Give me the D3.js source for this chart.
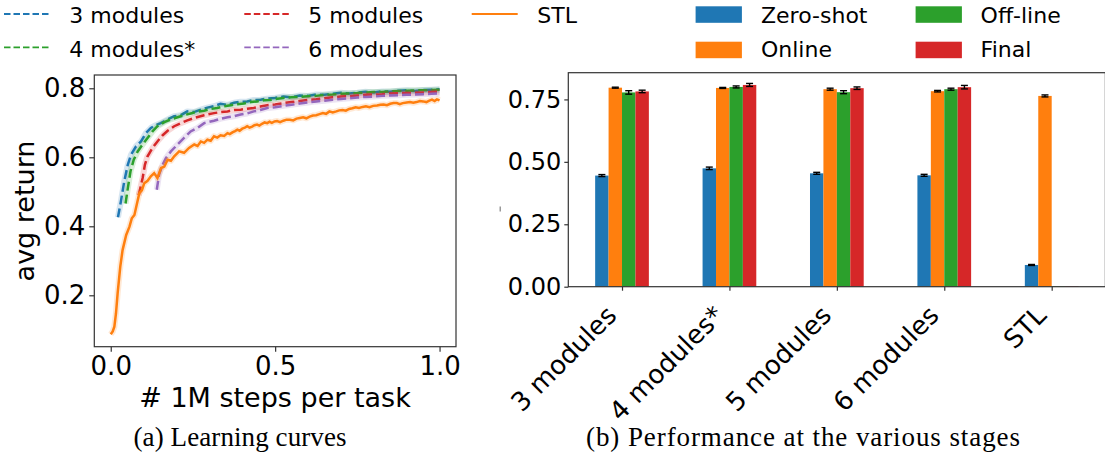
<!DOCTYPE html>
<html>
<head>
<meta charset="utf-8">
<script src="https://cdn.jsdelivr.net/npm/d3@7"></script>
<style>
  body { margin: 0; background: #fff; }
  svg text { font-family: "DejaVu Sans", sans-serif; fill: #000; }
</style>
</head>
<body>
<div id="chart"></div>
<script>
// ---- learning curves (a) ----
var steps3 = [0.022,0.031,0.041,0.052,0.062,0.077,0.092,0.107,0.122,0.137,0.152,0.172,0.193,0.213,0.233,0.253,0.274,0.294,0.314,0.334,0.355,0.375,0.395,0.415,0.435,0.456,0.476,0.5,0.525,0.55,0.575,0.6,0.625,0.65,0.675,0.7,0.725,0.75,0.775,0.8,0.825,0.85,0.875,0.9,0.925,0.95,0.975,1.0];
var ret3 = [0.426,0.473,0.530,0.579,0.608,0.632,0.646,0.670,0.685,0.693,0.699,0.709,0.719,0.722,0.733,0.731,0.738,0.744,0.748,0.755,0.752,0.758,0.761,0.762,0.766,0.767,0.770,0.772,0.776,0.774,0.779,0.778,0.782,0.781,0.784,0.787,0.785,0.787,0.790,0.788,0.791,0.790,0.793,0.794,0.792,0.795,0.796,0.797];

var steps4 = [0.045,0.052,0.060,0.070,0.082,0.097,0.112,0.127,0.142,0.163,0.183,0.203,0.223,0.243,0.264,0.284,0.304,0.324,0.345,0.365,0.385,0.405,0.425,0.445,0.465,0.485,0.5,0.525,0.55,0.575,0.6,0.625,0.65,0.675,0.7,0.725,0.75,0.775,0.8,0.825,0.85,0.875,0.9,0.925,0.95,0.975,1.0];
var ret4 = [0.466,0.511,0.559,0.593,0.617,0.637,0.656,0.675,0.690,0.702,0.710,0.716,0.722,0.727,0.732,0.735,0.740,0.743,0.748,0.751,0.754,0.756,0.760,0.762,0.765,0.766,0.769,0.772,0.774,0.775,0.777,0.778,0.781,0.782,0.784,0.785,0.786,0.788,0.789,0.789,0.791,0.792,0.793,0.794,0.794,0.795,0.796];

var steps5 = [0.085,0.097,0.104,0.112,0.127,0.142,0.158,0.173,0.193,0.213,0.233,0.254,0.284,0.314,0.335,0.355,0.375,0.395,0.415,0.435,0.455,0.476,0.5,0.525,0.55,0.575,0.6,0.625,0.65,0.675,0.7,0.725,0.75,0.775,0.8,0.825,0.85,0.875,0.9,0.925,0.95,0.975,1.0];
var ret5 = [0.490,0.540,0.579,0.603,0.627,0.646,0.664,0.677,0.690,0.699,0.707,0.714,0.722,0.728,0.731,0.733,0.737,0.738,0.741,0.743,0.747,0.751,0.753,0.757,0.760,0.763,0.766,0.768,0.771,0.774,0.776,0.777,0.779,0.781,0.782,0.783,0.785,0.786,0.786,0.787,0.788,0.789,0.790];

var steps6 = [0.14,0.147,0.158,0.168,0.183,0.203,0.223,0.243,0.264,0.284,0.314,0.335,0.355,0.375,0.395,0.415,0.435,0.455,0.476,0.5,0.525,0.55,0.575,0.6,0.625,0.65,0.675,0.7,0.725,0.75,0.775,0.8,0.825,0.85,0.875,0.9,0.925,0.95,0.975,1.0];
var ret6 = [0.506,0.550,0.579,0.598,0.617,0.637,0.656,0.675,0.685,0.699,0.706,0.712,0.716,0.719,0.724,0.727,0.733,0.737,0.743,0.745,0.749,0.752,0.756,0.759,0.762,0.764,0.767,0.769,0.771,0.773,0.775,0.776,0.778,0.779,0.780,0.781,0.782,0.783,0.784,0.785];

var stepsSTL = [0,0.006,0.011,0.016,0.021,0.029,0.036,0.047,0.057,0.064,0.072,0.08,0.087,0.095,0.102,0.112,0.122,0.132,0.142,0.153,0.163,0.173,0.183,0.193,0.208,0.223,0.238,
    0.254,0.264,0.274,0.284,0.294,0.304,0.314,0.324,0.334,0.345,0.355,0.362,0.37,0.378,0.385,0.392,0.4,0.408,0.415,0.422,
    0.43,0.437,0.445,0.452,0.46,0.468,0.476,0.483,0.49,0.498,0.506,0.515,0.525,0.535,0.545,0.555,0.565,0.575,0.585,0.595,
    0.605,0.615,0.625,0.635,0.645,0.655,0.665,0.675,0.686,0.695,0.705,0.715,0.725,0.735,0.745,0.755,0.766,0.776,0.787,0.798,
    0.81,0.82,0.83,0.84,0.85,0.86,0.87,0.879,0.888,0.9,0.91,0.92,0.93,0.94,0.95,0.96,0.969,0.977,0.985,0.992,1.0];
var retSTL = [0.087,0.095,0.109,0.148,0.206,0.283,0.331,0.375,0.399,0.423,0.433,0.467,0.496,0.505,0.525,0.532,0.545,0.554,0.540,0.569,0.573,0.593,0.590,0.603,0.617,0.613,0.627,
    0.637,0.633,0.646,0.642,0.651,0.648,0.661,0.657,0.664,0.662,0.670,0.667,0.672,0.676,0.680,0.677,0.683,0.686,0.690,0.686,
    0.689,0.693,0.695,0.692,0.697,0.701,0.699,0.703,0.700,0.704,0.705,0.702,0.706,0.709,0.709,0.707,0.712,0.714,0.716,0.713,
    0.718,0.721,0.722,0.725,0.728,0.726,0.733,0.730,0.733,0.736,0.737,0.735,0.740,0.742,0.745,0.743,0.746,0.748,0.745,0.749,
    0.750,0.752,0.753,0.751,0.755,0.757,0.757,0.754,0.757,0.759,0.760,0.758,0.760,0.763,0.762,0.760,0.764,0.767,0.763,0.768,0.765];

// ---- stage performance (b) ----
var methods = ["3 modules", "4 modules*", "5 modules", "6 modules", "STL"];
var stages = ["Zero-shot", "Online", "Off-line", "Final"];
var zeroShot = [0.445, 0.474, 0.454, 0.446, 0.087];
var online   = [0.797, 0.796, 0.791, 0.783, 0.764];
var offline  = [0.778, 0.800, 0.779, 0.791, 0.002];
var final    = [0.782, 0.808, 0.795, 0.799, 0.002];
var zeroShotErr = [0.004, 0.005, 0.004, 0.004, 0.002];
var onlineErr   = [0.002, 0.002, 0.004, 0.003, 0.004];
var offlineErr  = [0.007, 0.004, 0.006, 0.004, 0.0];
var finalErr    = [0.005, 0.006, 0.005, 0.007, 0.0];

var tab = { blue: "#1f77b4", orange: "#ff7f0e", green: "#2ca02c", red: "#d62728", purple: "#9467bd" };

var svg = d3.select("#chart")
    .append("svg")
    .attr("width", 1105)
    .attr("height", 454);

// ================= left chart =================
var lx = d3.scaleLinear().domain([-0.05, 1.05]).range([94.3, 456]);
var ly = d3.scaleLinear().domain([0.051, 0.8385]).range([346.7, 75]);

var curves = [
    { name: "3 modules", xs: steps3, ys: ret3, color: tab.blue, dashed: true },
    { name: "4 modules*", xs: steps4, ys: ret4, color: tab.green, dashed: true },
    { name: "5 modules", xs: steps5, ys: ret5, color: tab.red, dashed: true },
    { name: "6 modules", xs: steps6, ys: ret6, color: tab.purple, dashed: true },
    { name: "STL", xs: stepsSTL, ys: retSTL, color: tab.orange, dashed: false }
];

var line = d3.line()
    .x(d => lx(d[0]))
    .y(d => ly(d[1]));

var curveG = svg.append("g");
curves.forEach(function (c) {
    var pts = c.xs.map((x, i) => [x, c.ys[i]]);
    // faint spread band under each curve
    curveG.append("path")
        .attr("d", line(pts))
        .attr("fill", "none")
        .attr("stroke", c.color)
        .attr("stroke-opacity", 0.18)
        .attr("stroke-width", 6)
        .attr("stroke-linejoin", "round");
    curveG.append("path")
        .attr("d", line(pts))
        .attr("fill", "none")
        .attr("stroke", c.color)
        .attr("stroke-width", 2.5)
        .attr("stroke-dasharray", c.dashed ? "9,4" : null);
});

// frame
svg.append("rect")
    .attr("x", 94.3).attr("y", 75)
    .attr("width", 456 - 94.3).attr("height", 346.7 - 75)
    .attr("fill", "none").attr("stroke", "#333").attr("stroke-width", 1.2);

var lxAxis = svg.append("g")
    .attr("transform", "translate(0,346.7)")
    .call(d3.axisBottom(lx).tickValues([0, 0.5, 1]).tickFormat(d3.format(".1f")).tickSize(5).tickPadding(5).tickSizeOuter(0));
var lyAxis = svg.append("g")
    .attr("transform", "translate(94.3,0)")
    .call(d3.axisLeft(ly).tickValues([0.2, 0.4, 0.6, 0.8]).tickFormat(d3.format(".1f")).tickSize(5).tickPadding(4).tickSizeOuter(0));

[lxAxis, lyAxis].forEach(function (a) {
    a.select(".domain").remove();
    a.selectAll("line").attr("stroke", "#333").attr("stroke-width", 1.2);
    a.selectAll("text").style("font-size", "26px").style("font-family", "DejaVu Sans");
});

svg.append("text")
    .attr("transform", "translate(34,211) rotate(-90)")
    .attr("text-anchor", "middle")
    .style("font-size", "27px")
    .text("avg return");

svg.append("text")
    .attr("x", 275).attr("y", 407)
    .attr("text-anchor", "middle")
    .style("font-size", "27px")
    .text("# 1M steps per task");

// legend for curves (ncol = 3, column major)
var legPos = [[4, 69.3, 0], [4, 69.3, 1], [244.3, 308.3, 0], [244.3, 308.3, 1], [471.7, 537.3, 0]];
curves.forEach(function (c, i) {
    var p = legPos[i];
    var yy = 14 + p[2] * 33.4;
    svg.append("line")
        .attr("x1", p[0]).attr("x2", p[0] + 46)
        .attr("y1", yy).attr("y2", yy)
        .attr("stroke", c.color)
        .attr("stroke-width", 1.8)
        .attr("stroke-dasharray", c.dashed ? "6.5,3" : null);
    svg.append("text")
        .attr("x", p[1]).attr("y", 23.3 + p[2] * 33.4)
        .style("font-size", "22px")
        .text(c.name);
});

// ================= right chart =================
var rx = d3.scaleLinear().domain([-0.5, 4.5]).range([568.3, 1105.4]);
var ry = d3.scaleLinear().domain([0, 0.857]).range([286.7, 72.7]);

var stageVals = [zeroShot, online, offline, final];
var stageErrs = [zeroShotErr, onlineErr, offlineErr, finalErr];
var stageColors = [tab.blue, tab.orange, tab.green, tab.red];
var barW = 0.125;

var barG = svg.append("g");
stageVals.forEach(function (vals, s) {
    barG.selectAll(null)
        .data(vals)
        .enter()
        .append("rect")
        .attr("x", (d, i) => rx(i + (s - 2) * barW))
        .attr("width", rx(barW) - rx(0))
        .attr("y", d => ry(d))
        .attr("height", d => ry(0) - ry(d))
        .attr("fill", stageColors[s]);
});

var errG = svg.append("g");
stageVals.forEach(function (vals, s) {
    vals.forEach(function (v, i) {
        var e = stageErrs[s][i];
        if (e <= 0) return;
        var cx = rx(i + (s - 1.5) * barW);
        errG.append("line")
            .attr("x1", cx).attr("x2", cx)
            .attr("y1", ry(v - e)).attr("y2", ry(v + e))
            .attr("stroke", "#000").attr("stroke-width", 1.4);
        [v - e, v + e].forEach(function (yv) {
            errG.append("line")
                .attr("x1", cx - 3.5).attr("x2", cx + 3.5)
                .attr("y1", ry(yv)).attr("y2", ry(yv))
                .attr("stroke", "#000").attr("stroke-width", 1.4);
        });
    });
});

// frame (right spine sits on the page edge)
svg.append("rect")
    .attr("x", 568.3).attr("y", 72.7)
    .attr("width", 1105.4 - 568.3).attr("height", 286.7 - 72.7)
    .attr("fill", "none").attr("stroke", "#333").attr("stroke-width", 1.2);

var ryAxis = svg.append("g")
    .attr("transform", "translate(568.3,0)")
    .call(d3.axisLeft(ry).tickValues([0, 0.25, 0.5, 0.75]).tickFormat(d3.format(".2f")).tickSize(4).tickPadding(3).tickSizeOuter(0));
ryAxis.select(".domain").remove();
ryAxis.selectAll("line").attr("stroke", "#333").attr("stroke-width", 1.2);
ryAxis.selectAll("text").style("font-size", "24px").style("font-family", "DejaVu Sans");

var rxAxis = svg.append("g")
    .attr("transform", "translate(0,286.7)")
    .call(d3.axisBottom(rx).tickValues(d3.range(methods.length)).tickFormat("").tickSize(4).tickSizeOuter(0));
rxAxis.select(".domain").remove();
rxAxis.selectAll("line").attr("stroke", "#333").attr("stroke-width", 1.2);

svg.append("g").selectAll("text")
    .data(methods)
    .enter()
    .append("text")
    .attr("transform", (d, i) => "translate(" + (rx(i) - 4) + ",317) rotate(-45)")
    .attr("text-anchor", "end")
    .style("font-size", "26px")
    .text(d => d);

// clipped y label remnant
svg.append("rect")
    .attr("x", 499.5).attr("y", 206.5)
    .attr("width", 1.5).attr("height", 5)
    .attr("fill", "#999");

// legend for stages (ncol = 2, column major)
stages.forEach(function (name, i) {
    var col = Math.floor(i / 2), row = i % 2;
    var px = col === 0 ? 695.6 : 915.6;
    var tx = col === 0 ? 761 : 980.6;
    svg.append("rect")
        .attr("x", px).attr("y", 6.3 + row * 35.4)
        .attr("width", 46.3).attr("height", 16.5)
        .attr("fill", stageColors[i]);
    svg.append("text")
        .attr("x", tx).attr("y", 23.3 + row * 33.4)
        .style("font-size", "22px")
        .text(name);
});

// ================= captions =================
svg.append("text")
    .attr("x", 240).attr("y", 446)
    .attr("text-anchor", "middle")
    .attr("textLength", 213)
    .attr("lengthAdjust", "spacing")
    .style("font-family", "'Liberation Serif', serif")
    .style("font-size", "27px")
    .text("(a) Learning curves");

svg.append("text")
    .attr("x", 803).attr("y", 446)
    .attr("text-anchor", "middle")
    .attr("textLength", 434)
    .attr("lengthAdjust", "spacing")
    .style("font-family", "'Liberation Serif', serif")
    .style("font-size", "27px")
    .text("(b) Performance at the various stages");
</script>
</body>
</html>
